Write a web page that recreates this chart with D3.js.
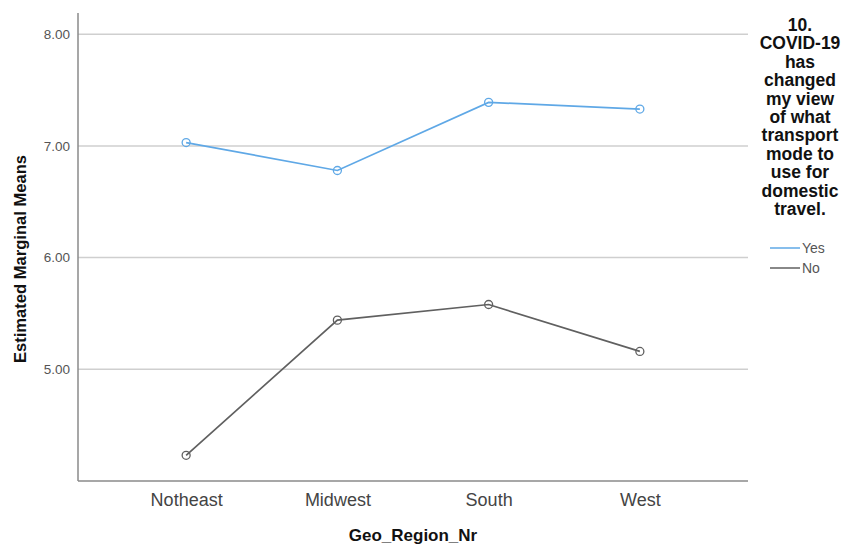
<!DOCTYPE html>
<html>
<head>
<meta charset="utf-8">
<script src="https://cdn.jsdelivr.net/npm/d3@7"></script>
<style>
  html, body { margin: 0; padding: 0; background: #fff; }
  svg { display: block; }
</style>
</head>
<body>
<svg id="chart" width="847" height="546"></svg>
<script>
const categories = ["Notheast", "Midwest", "South", "West"];
const yesValues = [7.03, 6.78, 7.39, 7.33];
const noValues = [4.23, 5.44, 5.58, 5.16];
const seriesNames = ["Yes", "No"];
const yTicks = [5, 6, 7, 8];
const legendTitle = ["10.", "COVID-19", "has", "changed", "my view", "of what", "transport", "mode to", "use for", "domestic", "travel."];

(function () {
const svg = d3.select("#chart");
const font = "'Liberation Sans', Arial, sans-serif";
const pLeft = 78, pRight = 748, pTop = 13, pBottom = 481;

const x = d3.scalePoint().domain(categories).range([pLeft, pRight]).padding(0.715);
const y = d3.scaleLinear().domain([4.0, 8.19]).range([pBottom, pTop]);

// gridlines
svg.append("g").selectAll("line").data(yTicks).join("line")
  .attr("x1", pLeft).attr("x2", pRight)
  .attr("y1", d => y(d)).attr("y2", d => y(d))
  .attr("stroke", "#cfcfcf").attr("stroke-width", 1.5);

// y axis
const yAxis = svg.append("g").attr("transform", `translate(${pLeft},0)`)
  .call(d3.axisLeft(y).tickValues(yTicks).tickFormat(d3.format(".2f")).tickSize(0).tickPadding(8));
yAxis.select(".domain").remove();
yAxis.selectAll("text").attr("font-family", font).attr("font-size", 13.5).attr("fill", "#555");
svg.append("line").attr("x1", pLeft).attr("x2", pLeft).attr("y1", pTop).attr("y2", pBottom)
  .attr("stroke", "#8a8a8a").attr("stroke-width", 1.5);

// x axis
const xAxis = svg.append("g").attr("transform", `translate(0,${pBottom})`)
  .call(d3.axisBottom(x).tickSize(0).tickPadding(12));
xAxis.select(".domain").remove();
xAxis.selectAll("text").attr("font-family", font).attr("font-size", 18).attr("fill", "#444");
svg.append("line").attr("x1", pLeft).attr("x2", pRight).attr("y1", pBottom).attr("y2", pBottom)
  .attr("stroke", "#8a8a8a").attr("stroke-width", 1.5);

// axis titles
svg.append("text").attr("x", (pLeft + pRight) / 2).attr("y", 541)
  .attr("text-anchor", "middle").attr("font-family", font).attr("font-weight", "bold")
  .attr("font-size", 17).attr("fill", "#111").text("Geo_Region_Nr");
svg.append("text").attr("transform", "translate(26,259) rotate(-90)")
  .attr("text-anchor", "middle").attr("font-family", font).attr("font-weight", "bold")
  .attr("font-size", 17).attr("fill", "#111")
  .attr("textLength", 208).attr("lengthAdjust", "spacingAndGlyphs")
  .text("Estimated Marginal Means");

// series
const series = [
  { name: seriesNames[0], values: yesValues, color: "#5fa8e6" },
  { name: seriesNames[1], values: noValues, color: "#606060" }
];
const line = d3.line().x((d, i) => x(categories[i])).y(d => y(d));
series.forEach(s => {
  svg.append("path").datum(s.values).attr("d", line)
    .attr("fill", "none").attr("stroke", s.color).attr("stroke-width", 1.7);
  svg.append("g").selectAll("circle").data(s.values).join("circle")
    .attr("cx", (d, i) => x(categories[i])).attr("cy", d => y(d)).attr("r", 4)
    .attr("fill", "none").attr("stroke", s.color).attr("stroke-width", 1.3);
});

// legend
const lg = svg.append("g");
lg.selectAll("text.title").data(legendTitle).join("text").attr("class", "title")
  .attr("x", 800).attr("y", (d, i) => 31 + i * 18.4)
  .attr("text-anchor", "middle").attr("font-family", font).attr("font-weight", "bold")
  .attr("font-size", 17.5).attr("fill", "#111").text(d => d);
series.forEach((s, i) => {
  const yy = 248 + i * 20;
  lg.append("line").attr("x1", 770).attr("x2", 800).attr("y1", yy).attr("y2", yy)
    .attr("stroke", s.color).attr("stroke-width", 1.5);
  lg.append("text").attr("x", 802).attr("y", yy + 5).attr("font-family", font)
    .attr("font-size", 14).attr("fill", "#555").text(s.name);
});
})();
</script>
</body>
</html>
